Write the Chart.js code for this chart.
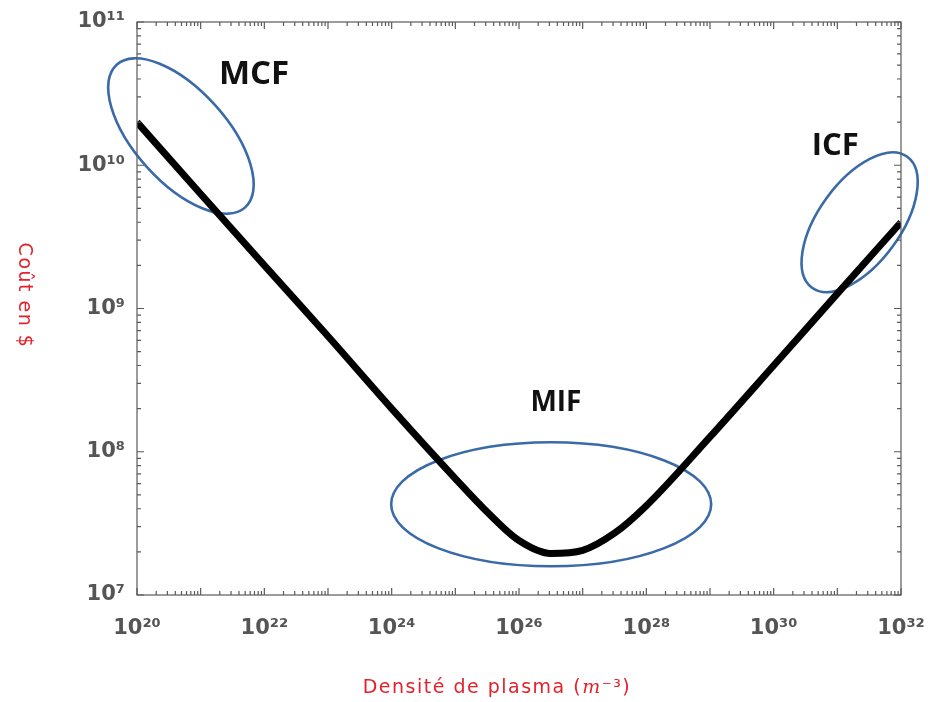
<!DOCTYPE html>
<html>
<head>
<meta charset="utf-8">
<script src="https://cdn.jsdelivr.net/npm/chart.js@4.4.1/dist/chart.umd.min.js"></script>
<style>
  html, body { margin: 0; padding: 0; background: #ffffff; }
  #wrap { width: 930px; height: 702px; }
</style>
</head>
<body>
<div id="wrap"><canvas id="chart" width="930" height="702"></canvas></div>
<script>
// Plasma density (m^-3) and the matching cost in dollars
const densities = [1e20, 1e21, 1e22, 1e23, 1e24, 1e25, 3.16e25, 1e26, 3.16e26, 1e27, 3.16e27, 1e28, 1e29, 1e30, 1e31, 1e32];
const costs     = [2.0e10, 6.3e9, 2.0e9, 6.4e8, 2.0e8, 6.5e7, 3.8e7, 2.4e7, 1.95e7, 2.05e7, 2.7e7, 4.2e7, 1.27e8, 4.0e8, 1.27e9, 4.0e9];

// Axis decades (exponents of ten) and the ones that carry a label
const xExponents = [20, 21, 22, 23, 24, 25, 26, 27, 28, 29, 30, 31, 32];
const xLabelledExponents = [20, 22, 24, 26, 28, 30, 32];
const yExponents = [7, 8, 9, 10, 11];
const yLabelledExponents = [7, 8, 9, 10, 11];

// Regions of the three fusion approaches
const regionNames   = ['MCF', 'MIF', 'ICF'];
const regionCenterN = [4.9e20, 3.2e26, 2.24e31];
const regionCenterC = [1.6e10, 4.3e7, 4.0e9];
const regionLabelN  = [6.9e21, 3.8e26, 9.3e30];
const regionLabelC  = [4.3e10, 2.19e8, 1.35e10];

// Ellipse shapes (pixels / degrees) and label sizes
const regionShapes = [
  { rx: 96, ry: 46, angle: 48 },
  { rx: 160, ry: 62, angle: 0 },
  { rx: 81, ry: 41, angle: -54 }
];
const regionFontSizes = [33, 28, 31];

const SUP = { '0': '\u2070', '1': '\u00B9', '2': '\u00B2', '3': '\u00B3', '4': '\u2074',
              '5': '\u2075', '6': '\u2076', '7': '\u2077', '8': '\u2078', '9': '\u2079', '-': '\u207B' };
const sup = s => String(s).split('').map(ch => SUP[ch] || ch).join('');

// Every 1..9 x 10^e position of a logarithmic axis
function logTickValues(exps) {
  const out = [];
  for (let i = 0; i < exps.length - 1; i++) {
    for (let k = 1; k <= 9; k++) out.push(Number(k + 'e' + exps[i]));
  }
  out.push(Number('1e' + exps[exps.length - 1]));
  return out;
}
function exponentOf(v) {
  const l = Math.log10(v);
  const r = Math.round(l);
  return Math.abs(l - r) < 1e-6 ? r : null;
}
function powerLabel(labelled) {
  return function (value) {
    const e = exponentOf(value);
    return (e !== null && labelled.includes(e)) ? '10' + sup(e) : '';
  };
}

const points = densities.map((n, i) => ({ x: n, y: costs[i] }));

const tickFont = { family: "'DejaVu Sans', sans-serif", size: 21, weight: 'bold' };
const tickColor = '#555555';
const frameColor = '#5a5a5a';
const titleColor = '#e3222b';

// Box around the plot with MATLAB-style inward ticks on all four sides
const frameTicks = {
  id: 'frameTicks',
  afterDraw(chart) {
    const { ctx, chartArea: a, scales } = chart;
    ctx.save();
    ctx.strokeStyle = frameColor;
    ctx.lineWidth = 1.2;
    ctx.strokeRect(a.left, a.top, a.right - a.left, a.bottom - a.top);
    ctx.beginPath();
    scales.x.ticks.forEach(t => {
      const px = scales.x.getPixelForValue(t.value);
      const len = exponentOf(t.value) !== null ? 7 : 4;
      ctx.moveTo(px, a.bottom); ctx.lineTo(px, a.bottom - len);
      ctx.moveTo(px, a.top); ctx.lineTo(px, a.top + len);
    });
    scales.y.ticks.forEach(t => {
      const py = scales.y.getPixelForValue(t.value);
      const len = exponentOf(t.value) !== null ? 7 : 4;
      ctx.moveTo(a.left, py); ctx.lineTo(a.left + len, py);
      ctx.moveTo(a.right, py); ctx.lineTo(a.right - len, py);
    });
    ctx.stroke();

    // axis titles
    const sans = "19px 'DejaVu Sans', sans-serif";
    const ital = "italic 19px 'DejaVu Serif', serif";
    ctx.fillStyle = titleColor;
    ctx.letterSpacing = '1.5px';
    ctx.textBaseline = 'middle';
    const parts = [
      ['Densit\u00e9 de plasma (', sans],
      ['m', ital],
      ['\u207B\u00B3', sans],
      [')', sans]
    ];
    const widths = parts.map(([t, f]) => { ctx.font = f; return ctx.measureText(t).width; });
    const total = widths.reduce((s, w) => s + w, 0);
    let x0 = (a.left + a.right) / 2 - 22 - total / 2;
    const y0 = a.bottom + 93;
    ctx.textAlign = 'left';
    parts.forEach(([t, f], i) => { ctx.font = f; ctx.fillText(t, x0, y0); x0 += widths[i]; });

    ctx.font = sans;
    ctx.translate(a.left - 113, (a.top + a.bottom) / 2 - 13);
    ctx.rotate(Math.PI / 2);
    ctx.textAlign = 'center';
    ctx.fillText('Co\u00fbt en $', 0, 0);
    ctx.restore();
  }
};

// Ellipses around the three regimes, placed through the axis scales
const regions = {
  id: 'regions',
  beforeDatasetsDraw(chart) {
    const { ctx, scales } = chart;
    ctx.save();
    ctx.strokeStyle = '#3a6aa8';
    ctx.lineWidth = 2.6;
    regionNames.forEach((name, i) => {
      const cx = scales.x.getPixelForValue(regionCenterN[i]);
      const cy = scales.y.getPixelForValue(regionCenterC[i]);
      const s = regionShapes[i];
      ctx.beginPath();
      ctx.ellipse(cx, cy, s.rx, s.ry, s.angle * Math.PI / 180, 0, Math.PI * 2);
      ctx.stroke();
    });
    ctx.restore();
  },
  afterDatasetsDraw(chart) {
    const { ctx, scales } = chart;
    ctx.save();
    ctx.fillStyle = '#111111';
    ctx.textAlign = 'center';
    ctx.textBaseline = 'middle';
    regionNames.forEach((name, i) => {
      ctx.font = "bold " + regionFontSizes[i] + "px 'Open Sans', sans-serif";
      ctx.fillText(name, scales.x.getPixelForValue(regionLabelN[i]), scales.y.getPixelForValue(regionLabelC[i]));
    });
    ctx.restore();
  }
};

new Chart(document.getElementById('chart'), {
  type: 'line',
  data: {
    datasets: [{
      data: points,
      borderColor: '#000000',
      borderWidth: 7,
      pointRadius: 0,
      fill: false,
      cubicInterpolationMode: 'monotone'
    }]
  },
  options: {
    responsive: false,
    animation: false,
    devicePixelRatio: 1,
    layout: { padding: { top: 22, right: 29, left: 0, bottom: 0 } },
    plugins: { legend: { display: false }, tooltip: { enabled: false } },
    scales: {
      x: {
        type: 'logarithmic',
        min: Number('1e' + xExponents[0]),
        max: Number('1e' + xExponents[xExponents.length - 1]),
        afterBuildTicks(scale) { scale.ticks = logTickValues(xExponents).map(v => ({ value: v })); },
        afterFit(scale) { scale.height = 107; },
        grid: { display: false, drawTicks: true, tickLength: 21 },
        border: { display: false },
        ticks: {
          autoSkip: false, maxRotation: 0, minRotation: 0, padding: 0,
          font: tickFont, color: tickColor,
          callback: powerLabel(xLabelledExponents)
        }
      },
      y: {
        type: 'logarithmic',
        min: Number('1e' + yExponents[0]),
        max: Number('1e' + yExponents[yExponents.length - 1]),
        afterBuildTicks(scale) { scale.ticks = logTickValues(yExponents).map(v => ({ value: v })); },
        afterFit(scale) { scale.width = 137; },
        grid: { display: false, drawTicks: true, tickLength: 12 },
        border: { display: false },
        ticks: {
          autoSkip: false, padding: 0,
          font: tickFont, color: tickColor,
          callback: powerLabel(yLabelledExponents)
        }
      }
    }
  },
  plugins: [regions, frameTicks]
});
</script>
</body>
</html>
